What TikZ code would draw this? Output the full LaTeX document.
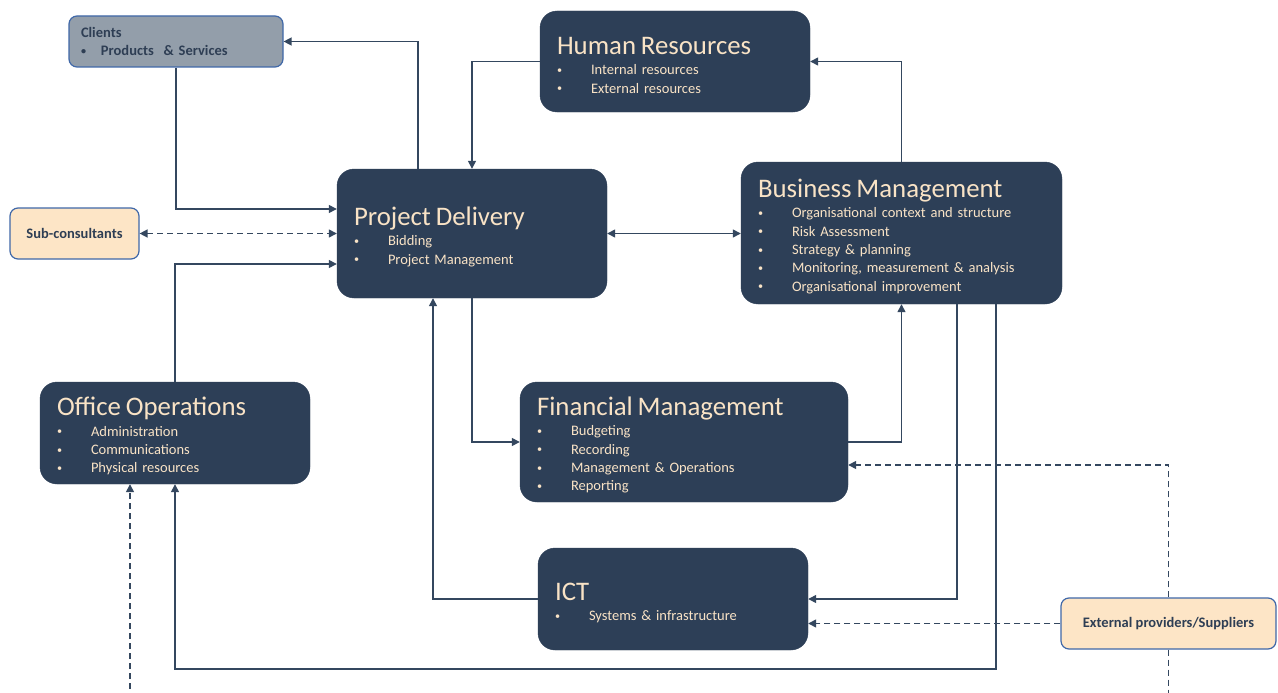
\documentclass[tikz,border=0pt]{standalone}
\usepackage{fontspec}
\setmainfont{Carlito}
\usetikzlibrary{arrows.meta}
\definecolor{boxc}{HTML}{2D3F57}
\definecolor{creamc}{HTML}{F9E3C6}
\definecolor{linec}{HTML}{34475F}
\definecolor{clientc}{HTML}{939EAA}
\definecolor{edgeb}{HTML}{4068A8}
\definecolor{peachc}{HTML}{FDE5C6}
\definecolor{inkc}{HTML}{2E3E54}
\newcommand\hd[1]{{\fontsize{26.8}{28}\selectfont\rule{0pt}{25pt}#1}}
\newcommand\bul{\makebox[34pt][l]{\raisebox{1.3pt}{\scalebox{0.7}{\textbullet}}}}
\tikzset{
	dept/.style={draw=boxc, fill=boxc, rounded corners=17pt, text=creamc, inner xsep=17pt,
		align=left, font=\fontsize{14.5}{18.3}\selectfont},
	party/.style={draw=edgeb, fill=peachc, rounded corners=8pt, text=inkc, line width=1.2pt,
		font=\bfseries\fontsize{14.5}{18}\selectfont},
	link/.style={draw=linec, line width=1.4pt, -{Triangle[length=8pt,width=8pt]}},
	extlink/.style={link, line width=1.5pt, dash pattern=on 6pt off 4pt}
}
\begin{document}
\begin{tikzpicture}[x=1pt,y=-1pt]
		\clip (0,0) rectangle (1278,693);
		\fill[white] (0,0) rectangle (1278,693);
		\coordinate (bot) at (0,669);
		\coordinate (under) at (0,720);
		\node[draw=edgeb, fill=clientc, rounded corners=8pt, text=inkc, line width=1.2pt, align=left,
			inner xsep=12pt, text width=190pt, minimum height=51pt,
			font=\bfseries\fontsize{14.5}{18}\selectfont] (clients) at (176,41.5)
			{Clients\\ \makebox[20pt][l]{\raisebox{1.3pt}{\scalebox{0.7}{\textbullet}}}Products \ \& Services};
		\node[dept, text width=236pt, minimum height=101pt] (hr) at (675,61.5)
			{\hd{Human Resources}\\[2pt] \bul Internal resources\\ \bul External resources};
		\node[dept, text width=236pt, minimum height=129pt] (pd) at (472,233.5)
			{\hd{Project Delivery}\\[2pt] \bul Bidding\\ \bul Project Management};
		\node[dept, text width=287pt, minimum height=142pt] (bm) at (901.5,233)
			{\hd{Business Management}\\[2pt] \bul Organisational context and structure\\
			\bul Risk Assessment\\ \bul Strategy \& planning\\
			\bul Monitoring, measurement \& analysis\\ \bul Organisational improvement};
		\node[party, minimum width=129pt, minimum height=51pt] (sub) at (74.5,233.5) {Sub-consultants};
		\node[dept, text width=236pt, minimum height=102pt] (office) at (175,433)
			{\hd{Office Operations}\\[2pt] \bul Administration\\ \bul Communications\\ \bul Physical resources};
		\node[dept, text width=294pt, minimum height=120pt] (fm) at (684,442)
			{\hd{Financial Management}\\[2pt] \bul Budgeting\\ \bul Recording\\
			\bul Management \& Operations\\ \bul Reporting};
		\node[dept, text width=236pt, minimum height=102pt] (ict) at (673,599)
			{\hd{ICT}\\[2pt] \bul Systems \& infrastructure};
		\node[party, minimum width=215pt, minimum height=51pt] (ext) at (1168.5,623.5) {External providers/Suppliers};

		\draw[link] ([xshift=-54pt]pd.north) |- (clients.east);
		\draw[link] (clients.south) |- ([yshift=24.5pt]pd.west);
		\draw[extlink, {Triangle[length=8pt,width=8pt]}-{Triangle[length=8pt,width=8pt]}]
			(sub.east) -- (sub.east -| pd.west);
		\draw[link] (office.north) |- ([yshift=-30.5pt]pd.west);
		\draw[link] (hr.west) -| (pd.north);
		\draw[link] (bm.north) |- (hr.east);
		\draw[link, {Triangle[length=8pt,width=8pt]}-{Triangle[length=8pt,width=8pt]}]
			(pd.east) -- (pd.east -| bm.west);
		\draw[link] (pd.south) |- (fm.west);
		\draw[link] (fm.east) -| (bm.south);
		\draw[link] (ict.west) -| ([xshift=-39pt]pd.south);
		\draw[link] ([xshift=55.5pt]bm.south) |- (ict.east);
		\draw[link] ([xshift=94.5pt]bm.south) |- (bot -| office.south) -- (office.south);
		\draw[extlink] (ext.north) |- ([yshift=-23pt]fm.east);
		\draw[extlink] (ext.west) -- (ext.west -| ict.east);
		\draw[extlink] (ext.south) -- (ext.south |- under) -| ([xshift=-45pt]office.south);
\end{tikzpicture}
\end{document}
